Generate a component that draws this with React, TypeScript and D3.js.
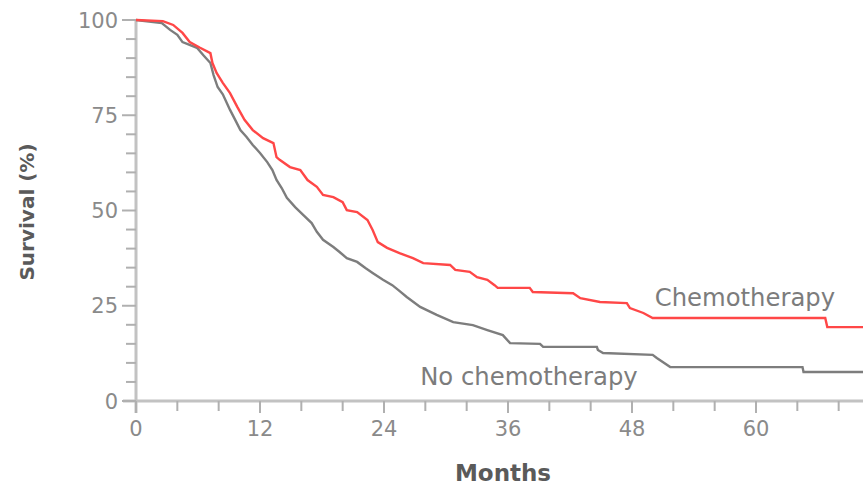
import React from "react";
import * as d3 from "d3";

// Kaplan–Meier style survival curves
const chemoMonths = [0, 2.6, 3.6, 4.5, 5.2, 6.2, 7.2, 7.4, 7.8, 8.4, 9.1, 9.8, 10.5, 11.3, 12.3, 13.3, 13.6, 13.9, 14.9, 15.9, 16.6, 17.5, 18.1, 19.1, 20.0, 20.4, 21.4, 22.4, 22.9, 23.4, 24.3, 25.5, 26.8, 27.8, 30.4, 30.9, 32.3, 33.0, 34.0, 34.7, 35.0, 38.1, 38.4, 42.3, 43.0, 44.9, 47.5, 47.8, 49.1, 50.0, 66.7, 66.9, 70.4];
const chemoSurvival = [100, 99.7, 98.7, 96.6, 94.2, 92.7, 91.3, 88.7, 86.1, 83.5, 80.8, 77.2, 73.8, 71.1, 69.0, 67.7, 64.0, 63.3, 61.4, 60.6, 58.0, 56.2, 54.1, 53.5, 52.2, 50.1, 49.6, 47.5, 44.9, 41.7, 40.2, 38.8, 37.5, 36.2, 35.7, 34.4, 33.9, 32.5, 31.8, 30.4, 29.7, 29.7, 28.6, 28.3, 27.0, 26.0, 25.7, 24.4, 23.1, 21.8, 21.8, 19.4, 19.4];

const noChemoMonths = [0, 2.5, 3.3, 4.0, 4.5, 5.9, 6.5, 7.2, 7.5, 7.9, 8.4, 9.1, 9.6, 10.1, 10.7, 11.3, 12.0, 12.7, 13.2, 13.6, 14.1, 14.6, 15.4, 16.2, 17.0, 17.5, 18.1, 19.1, 19.7, 20.4, 21.4, 22.2, 22.9, 23.9, 24.8, 25.4, 26.2, 27.5, 29.1, 30.7, 32.6, 34.0, 35.5, 36.2, 39.1, 39.4, 44.6, 44.7, 45.2, 50.0, 50.4, 51.7, 64.5, 64.6, 70.4];
const noChemoSurvival = [100, 99.2, 97.4, 96.1, 94.2, 92.7, 90.8, 88.7, 85.6, 82.4, 80.5, 76.4, 73.8, 71.1, 69.3, 67.2, 65.1, 62.7, 60.6, 58.0, 55.9, 53.3, 50.9, 48.8, 46.7, 44.4, 42.3, 40.4, 39.1, 37.5, 36.5, 34.9, 33.6, 31.8, 30.4, 29.1, 27.3, 24.7, 22.6, 20.7, 19.9, 18.6, 17.3, 15.2, 15.0, 14.2, 14.2, 13.4, 12.6, 12.1, 11.3, 8.9, 8.9, 7.6, 7.6];

const xMajorTicks = [0, 12, 24, 36, 48, 60];
const xTickLabels = ["0", "12", "24", "36", "48", "60"];
const xMinorTicks = [4, 8, 16, 20, 28, 32, 40, 44, 52, 56, 64, 68];
const yMajorTicks = [0, 25, 50, 75, 100];
const yTickLabels = ["0", "25", "50", "75", "100"];
const yMinorTicks = [5, 10, 15, 20, 30, 35, 40, 45, 55, 60, 65, 70, 80, 85, 90, 95];

const seriesLabels = [
  { name: "Chemotherapy", month: 50.2, surv: 24.9 },
  { name: "No chemotherapy", month: 27.5, surv: 4.2 },
];

const W = 863;
const H = 488;
const FONT = "'DejaVu Sans', Verdana, sans-serif";

export default function App() {
  const x = d3.scaleLinear().domain([0, 72]).range([136, 880]);
  const y = d3.scaleLinear().domain([0, 100]).range([401, 20]);

  const line = d3
    .line<[number, number]>()
    .x((d) => x(d[0]))
    .y((d) => y(d[1]));

  const chemo = chemoMonths.map((m, i) => [m, chemoSurvival[i]] as [number, number]);
  const noChemo = noChemoMonths.map((m, i) => [m, noChemoSurvival[i]] as [number, number]);

  const axisColor = "#c2c2c2";
  const tickColor = "#b0b0b0";
  const labelColor = "#8a8a8a";

  return (
    <svg
      width={W}
      height={H}
      style={{ position: "absolute", left: 0, top: 0, background: "#fff" }}
      fontFamily={FONT}
    >
      {/* y axis */}
      <line x1={x(0)} x2={x(0)} y1={y(100)} y2={y(0) + 12} stroke={axisColor} strokeWidth={3} />
      {/* x axis */}
      <line x1={x(0) - 13} x2={W} y1={y(0)} y2={y(0)} stroke={axisColor} strokeWidth={3} />

      {yMinorTicks.map((t) => (
        <line key={"ym" + t} x1={x(0) - 10} x2={x(0)} y1={y(t)} y2={y(t)} stroke={tickColor} strokeWidth={2} />
      ))}
      {yMajorTicks.map((t, i) => (
        <g key={"yM" + t}>
          <line x1={x(0) - 14} x2={x(0)} y1={y(t)} y2={y(t)} stroke={tickColor} strokeWidth={2} />
          <text x={x(0) - 18} y={y(t)} dy="0.36em" textAnchor="end" fontSize={21} fill={labelColor}>
            {yTickLabels[i]}
          </text>
        </g>
      ))}
      {xMinorTicks.map((t) => (
        <line key={"xm" + t} x1={x(t)} x2={x(t)} y1={y(0)} y2={y(0) + 10} stroke={tickColor} strokeWidth={2} />
      ))}
      {xMajorTicks.map((t, i) => (
        <g key={"xM" + t}>
          <line x1={x(t)} x2={x(t)} y1={y(0)} y2={y(0) + 12} stroke={tickColor} strokeWidth={2} />
          <text x={x(t)} y={y(0) + 35} textAnchor="middle" fontSize={21} fill={labelColor}>
            {xTickLabels[i]}
          </text>
        </g>
      ))}

      {/* curves */}
      <path d={line(noChemo) || ""} fill="none" stroke="#7d7d7d" strokeWidth={2.4} />
      <path d={line(chemo) || ""} fill="none" stroke="#ff4747" strokeWidth={2.4} />

      {seriesLabels.map((s) => (
        <text key={s.name} x={x(s.month)} y={y(s.surv)} fontSize={24.3} fill="#7c7c7c">
          {s.name}
        </text>
      ))}

      {/* axis titles */}
      <text x={503} y={481} textAnchor="middle" fontSize={23} fontWeight="bold" fill="#5a5a5a">
        Months
      </text>
      <text
        transform={`translate(34, 212) rotate(-90)`}
        textAnchor="middle"
        fontSize={20}
        fontWeight="bold"
        fill="#5a5a5a"
      >
        Survival (%)
      </text>
    </svg>
  );
}
